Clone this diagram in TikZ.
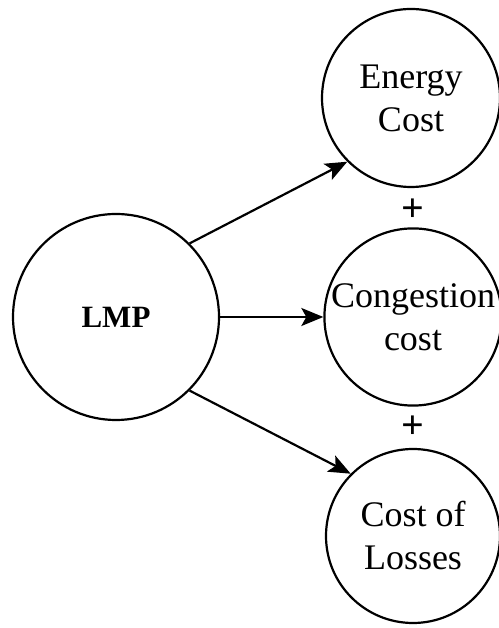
\documentclass[tikz,border=0pt]{standalone}
\usepackage{fontspec}
\setmainfont{Liberation Serif}
\usetikzlibrary{arrows.meta}
\begin{document}
\begin{tikzpicture}[x=1pt,y=1pt,
  bubble/.style={circle, draw, line width=2.2pt, inner sep=0pt, align=center,
    font=\fontsize{36}{43}\selectfont},
  link/.style={line width=2.2pt, -{Stealth[length=22pt,width=18pt,inset=5pt]}},
  plussign/.style={font=\fontsize{40}{40}\selectfont\bfseries, inner sep=0pt}]
\useasboundingbox (0,0) rectangle (498,628);
\node[bubble, minimum size=206pt, font=\fontsize{31}{34}\selectfont\bfseries] (lmp) at (116,311) {LMP};
\node[bubble, minimum size=178pt] (en) at (411,530) {Energy\\Cost};
\node[bubble, minimum size=172pt] (cg) at (413,311) {Congestion\\cost};
\node[bubble, minimum size=174pt] (ls) at (413,92) {Cost of\\Losses};
\node[plussign] (p1) at (413,418) {+};
\node[plussign] (p2) at (413,201) {+};
\draw[link] (lmp.45) -- (en.225);
\draw[link] (lmp.east) -- (cg.west);
\draw[link] (lmp.-45) -- (ls.135);
\end{tikzpicture}
\end{document}
